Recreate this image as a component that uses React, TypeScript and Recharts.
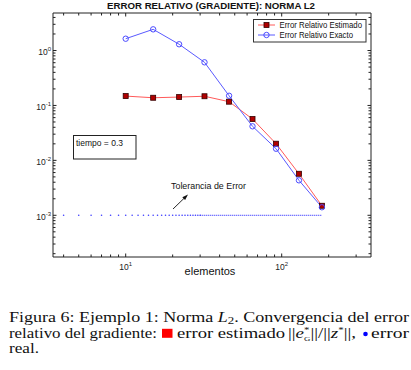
import { LineChart, Line, XAxis, YAxis, ReferenceLine } from "recharts";

// number of elements (log x) and relative errors (log y)
const elementos = [10, 15, 22, 32, 46, 65, 92, 129, 181];
const errorEstimado = [0.148, 0.138, 0.142, 0.147, 0.117, 0.0566, 0.0201, 0.0057, 0.00149];
const errorExacto = [1.64, 2.43, 1.3, 0.61, 0.15, 0.0417, 0.0163, 0.00433, 0.0014];

// tolerance drawn as dots at integer element counts, then a dense run
const tolerancia = 0.001;
const toleranciaDots = [4, 5, 6, 7, 8, 9, 10, 11, 12, 13, 14, 15, 16, 17, 18, 19, 20, 21, 22, 23, 24, 25, 26, 27, 28, 29, 30];
const toleranciaFin = 181;

const xTicks = [4, 5, 6, 7, 8, 9, 10, 20, 30, 40, 50, 60, 70, 80, 90, 100, 200, 300];
const yTicks = [
  2e-4, 3e-4, 4e-4, 5e-4, 6e-4, 7e-4, 8e-4, 9e-4,
  1e-3, 2e-3, 3e-3, 4e-3, 5e-3, 6e-3, 7e-3, 8e-3, 9e-3,
  1e-2, 2e-2, 3e-2, 4e-2, 5e-2, 6e-2, 7e-2, 8e-2, 9e-2,
  0.1, 0.2, 0.3, 0.4, 0.5, 0.6, 0.7, 0.8, 0.9,
  1, 2, 3, 4,
];
const xDomain = [3.42, 373.6];
const yDomain = [1.74e-4, 4.82];

const rows = elementos.map((x, i) => ({ x, est: errorEstimado[i], exa: errorExacto[i] }));
const tolRows = toleranciaDots.map((x) => ({ x, tol: tolerancia }));

const AX = "#222";
const SANS = "'Liberation Sans', Arial, Helvetica, sans-serif";
const SERIF = "'Liberation Serif', 'Times New Roman', serif";
const RED = "#ff5a5a";
const BLUE = "#5a5aff";

function isMajor(v: number) {
  const l = Math.log10(v);
  return Math.abs(l - Math.round(l)) < 1e-6;
}

function BottomTick({ x, y, payload }: any) {
  const v = payload.value;
  const major = isMajor(v);
  return (
    <g>
      <line x1={x} x2={x} y1={y} y2={y - (major ? 3.5 : 2.5)} stroke={AX} />
      {major ? (
        <text x={x} y={y + 13} textAnchor="middle" fontSize={8.5} fill={AX} fontFamily={SANS}>
          10<tspan dy={-4} fontSize={6}>{Math.round(Math.log10(v))}</tspan>
        </text>
      ) : null}
    </g>
  );
}

function TopTick({ x, y, payload }: any) {
  const major = isMajor(payload.value);
  return <line x1={x} x2={x} y1={y} y2={y + (major ? 3.5 : 2.5)} stroke={AX} />;
}

function LeftTick({ x, y, payload }: any) {
  const v = payload.value;
  const major = isMajor(v);
  return (
    <g>
      <line x1={x} x2={x + (major ? 3.5 : 2.5)} y1={y} y2={y} stroke={AX} />
      {major ? (
        <text x={x - 2} y={y + 4.5} textAnchor="end" fontSize={8.5} fill={AX} fontFamily={SANS}>
          10<tspan dy={-4} fontSize={6}>{Math.round(Math.log10(v))}</tspan>
        </text>
      ) : null}
    </g>
  );
}

function RightTick({ x, y, payload }: any) {
  const major = isMajor(payload.value);
  return <line x1={x} x2={x - (major ? 3.5 : 2.5)} y1={y} y2={y} stroke={AX} />;
}

function SquareDot(p: any) {
  if (p.cx == null || p.cy == null) return <g key={`s${p.index}`} />;
  return (
    <rect key={`s${p.index}`} x={p.cx - 2.5} y={p.cy - 2.5} width={5} height={5} fill="#b00000" stroke="#300" strokeWidth={0.8} />
  );
}

function CircleDot(p: any) {
  if (p.cx == null || p.cy == null) return <g key={`c${p.index}`} />;
  return <circle key={`c${p.index}`} cx={p.cx} cy={p.cy} r={2.7} fill="none" stroke="#4a4aff" strokeWidth={1} />;
}

function TinyDot(p: any) {
  if (p.cx == null || p.cy == null) return <g key={`t${p.index}`} />;
  return <circle key={`t${p.index}`} cx={p.cx} cy={p.cy} r={0.8} fill="#3c3cff" />;
}

function Overlay() {
  return (
    <svg width={411} height={290} style={{ position: "absolute", left: 0, top: 0, pointerEvents: "none" }} fontFamily={SANS}>
      <text x={107} y={8.5} fontSize={9} fontWeight="bold" fill="#111" textLength={208} lengthAdjust="spacingAndGlyphs">
        ERROR RELATIVO (GRADIENTE): NORMA L2
      </text>

      <rect x={253.5} y={19.5} width={112.5} height={22.5} fill="#fff" stroke="#333" />
      <line x1={258} x2={275} y1={25} y2={25} stroke={RED} />
      <rect x={264} y={22.5} width={5} height={5} fill="#b00000" stroke="#300" strokeWidth={0.8} />
      <text x={279.5} y={28} fontSize={8.5} fill="#111" textLength={82.5} lengthAdjust="spacingAndGlyphs">
        Error Relativo Estimado
      </text>
      <line x1={258} x2={275} y1={35} y2={35} stroke={BLUE} />
      <circle cx={266.5} cy={35} r={2.7} fill="none" stroke="#4a4aff" />
      <text x={279.5} y={38} fontSize={8.5} fill="#111" textLength={73.5} lengthAdjust="spacingAndGlyphs">
        Error Relativo Exacto
      </text>

      <rect x={73.5} y={135.5} width={62.5} height={23.5} fill="#fff" stroke="#222" />
      <text x={76} y={146} fontSize={8.5} fill="#111">tiempo = 0.3</text>

      <text x={171} y={189} fontSize={8.5} fill="#111" textLength={75} lengthAdjust="spacingAndGlyphs">
        Tolerancia de Error
      </text>
      <line x1={173} y1={209} x2={185} y2={197.4} stroke="#111" strokeWidth={0.9} />
      <polygon points="188,194.5 185.1,200.1 182.3,197.3" fill="#111" />

      <text x={210} y={275} textAnchor="middle" fontSize={11} fill="#111">elementos</text>
    </svg>
  );
}

function Caption() {
  return (
    <svg width={411} height={70} style={{ position: "absolute", left: 0, top: 300 }} fontFamily={SERIF} fontSize={14} fill="#111">
      <text x={9} y={21.6} textLength={400} lengthAdjust="spacingAndGlyphs">
        Figura 6: Ejemplo 1: Norma <tspan fontStyle="italic">L</tspan><tspan fontSize={10} dy={2.5}>2</tspan><tspan dy={-2.5}>. Convergencia del error</tspan>
      </text>
      <text x={9} y={37.5} textLength={148} lengthAdjust="spacingAndGlyphs">
        relativo del gradiente:
      </text>
      <rect x={162} y={28.8} width={10.5} height={9} fill="#ff0000" />
      <text x={177} y={37.5} textLength={108} lengthAdjust="spacingAndGlyphs">
        error estimado
      </text>
      <text x={288} y={37.5} textLength={68} lengthAdjust="spacingAndGlyphs">
        ||<tspan fontStyle="italic">e</tspan><tspan fontSize={8} dy={-5}>*</tspan><tspan fontSize={6.5} dx={-4} dy={8}>G</tspan><tspan dy={-3}>||/||</tspan><tspan fontStyle="italic">z</tspan><tspan fontSize={8} dy={-5}>*</tspan><tspan dy={5}>||,</tspan>
      </text>
      <circle cx={365.5} cy={34} r={2.3} fill="#0000ff" />
      <text x={371} y={37.5} textLength={38} lengthAdjust="spacingAndGlyphs">
        error
      </text>
      <text x={9} y={52.5} textLength={30} lengthAdjust="spacingAndGlyphs">
        real.
      </text>
    </svg>
  );
}

export default function App() {
  return (
    <div style={{ position: "absolute", left: 0, top: 0, width: 411, height: 370, background: "#fff" }}>
      <LineChart width={411} height={290} data={rows} margin={{ top: 0, right: 0, bottom: 0, left: 0 }}>
        <XAxis
          xAxisId="b"
          dataKey="x"
          type="number"
          scale="log"
          domain={xDomain}
          allowDataOverflow
          ticks={xTicks}
          interval={0}
          tickSize={0}
          tickMargin={0}
          tickLine={false}
          tick={<BottomTick />}
          axisLine={{ stroke: AX }}
          height={33}
        />
        <XAxis
          xAxisId="t"
          orientation="top"
          dataKey="x"
          type="number"
          scale="log"
          domain={xDomain}
          allowDataOverflow
          ticks={xTicks}
          interval={0}
          tickSize={0}
          tickMargin={0}
          tickLine={false}
          tick={<TopTick />}
          axisLine={{ stroke: AX }}
          height={13}
        />
        <YAxis
          yAxisId="l"
          type="number"
          scale="log"
          domain={yDomain}
          allowDataOverflow
          ticks={yTicks}
          interval={0}
          tickSize={0}
          tickMargin={0}
          tickLine={false}
          tick={<LeftTick />}
          axisLine={{ stroke: AX }}
          width={53}
        />
        <YAxis
          yAxisId="r"
          orientation="right"
          type="number"
          scale="log"
          domain={yDomain}
          allowDataOverflow
          ticks={yTicks}
          interval={0}
          tickSize={0}
          tickMargin={0}
          tickLine={false}
          tick={<RightTick />}
          axisLine={{ stroke: AX }}
          width={40}
        />
        <ReferenceLine
          xAxisId="b"
          yAxisId="l"
          segment={[
            { x: toleranciaDots[toleranciaDots.length - 1], y: tolerancia },
            { x: toleranciaFin, y: tolerancia },
          ]}
          stroke="#3c3cff"
          strokeWidth={1}
          strokeDasharray="1.2 0.8"
        />
        <Line
          xAxisId="b"
          yAxisId="l"
          data={tolRows}
          dataKey="tol"
          stroke="none"
          dot={TinyDot}
          activeDot={false}
          isAnimationActive={false}
        />
        <Line
          xAxisId="b"
          yAxisId="l"
          dataKey="est"
          stroke={RED}
          strokeWidth={1}
          dot={SquareDot}
          activeDot={false}
          isAnimationActive={false}
        />
        <Line
          xAxisId="b"
          yAxisId="l"
          dataKey="exa"
          stroke={BLUE}
          strokeWidth={1}
          dot={CircleDot}
          activeDot={false}
          isAnimationActive={false}
        />
      </LineChart>
      <Overlay />
      <Caption />
    </div>
  );
}
